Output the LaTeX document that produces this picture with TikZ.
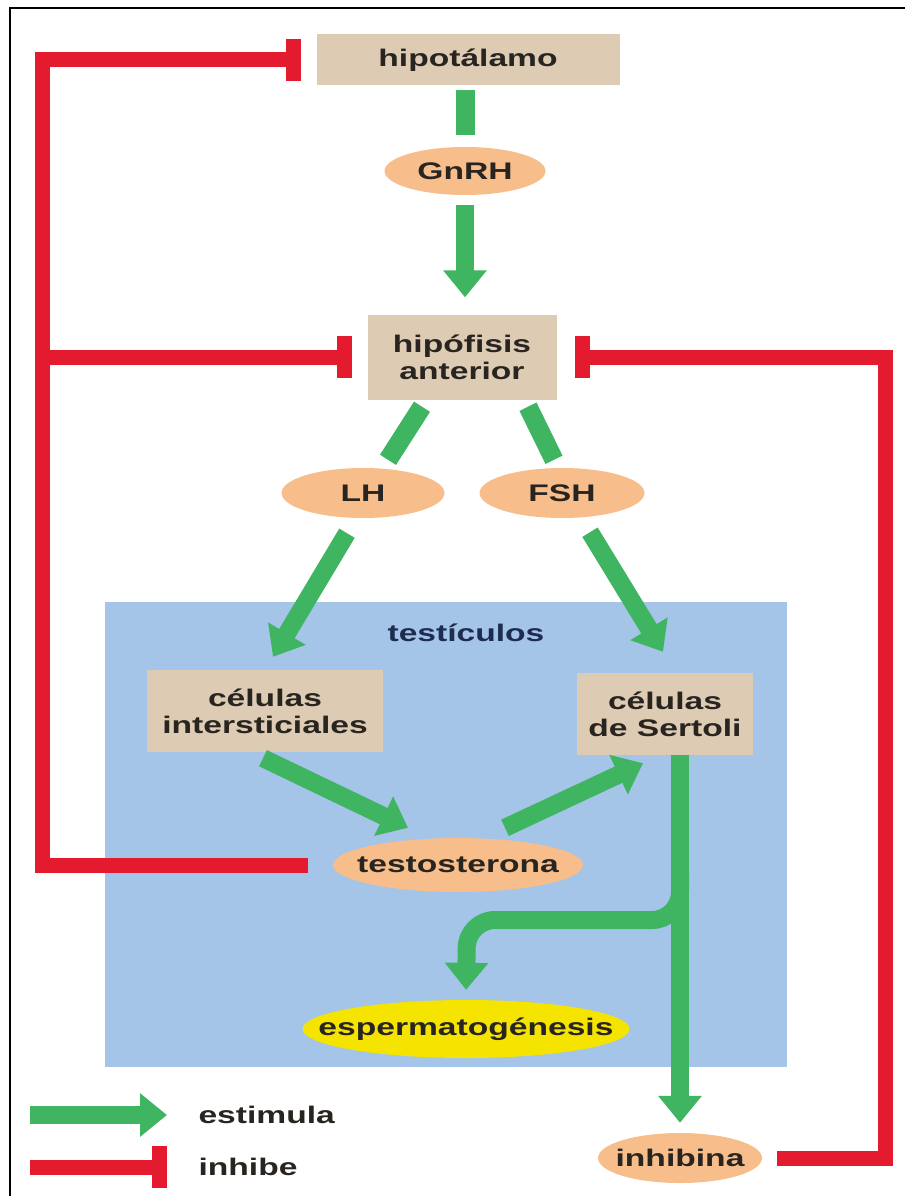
\documentclass[tikz,border=0pt]{standalone}
\usepackage{fontspec}
\newfontfamily\lbl[FakeStretch=1.4]{Liberation Sans}
\usetikzlibrary{shapes.geometric, arrows.meta, positioning, calc}
\definecolor{verdeH}{RGB}{64,181,97}
\definecolor{rojoH}{RGB}{228,26,46}
\definecolor{beigeH}{RGB}{221,203,179}
\definecolor{naranjaH}{RGB}{247,190,140}
\definecolor{azulH}{RGB}{164,196,232}
\definecolor{amarilloH}{RGB}{245,228,0}
\definecolor{azulT}{RGB}{30,45,79}
\definecolor{textoH}{RGB}{40,36,32}
\newcommand{\sinancho}[1]{\makebox[0pt]{#1}}

\begin{document}
\begin{tikzpicture}[x=1pt, y=-1pt,
    font=\lbl\bfseries\fontsize{24}{27}\selectfont, text=textoH,
    caja/.style={rectangle, fill=beigeH, align=center, inner sep=0pt},
    horm/.style={ellipse, fill=naranjaH, inner sep=0pt},
    linea/.style={line width=19pt, verdeH},
    estim/.style={-{Triangle[length=27pt,width=42pt]}, line width=18pt, verdeH},
    bloq/.style={-{Bar[width=42pt]}, line width=15pt, rojoH}]
        \useasboundingbox (0,0) rectangle (905,1196);
        \fill[white] (0,0) rectangle (905,1196);
        \draw[line width=1.5pt] (10,1196) -- (10,8) -- (905,8);

        \node[fill=azulH, minimum width=682pt, minimum height=465pt, anchor=north west, inner sep=0pt] (testic) at (105,602) {};
        \node[text=azulT] (titulo) at (466,633) {testículos};

        \node[caja, minimum width=303pt, minimum height=51pt] (hipot) at (468,60) {hipotálamo};
        \node[horm, minimum width=161pt, minimum height=48pt] (gnrh) at (465,171) {\sinancho{GnRH}};
        \node[caja, minimum width=189pt, minimum height=85pt] (hipof) at (462,357) {hipófisis\\anterior};
        \node[horm, minimum width=163pt, minimum height=50pt] (lh) at (363,493) {\sinancho{LH}};
        \node[horm, minimum width=165pt, minimum height=50pt] (fsh) at (562,493) {\sinancho{FSH}};
        \node[caja, minimum width=236pt, minimum height=82pt] (inter) at (265,711) {células\\intersticiales};
        \node[caja, minimum width=176pt, minimum height=82pt] (sert) at (665,714) {células\\de Sertoli};
        \node[horm, minimum width=250pt, minimum height=54pt] (testo) at (458,865) {\sinancho{testosterona}};
        \node[horm, fill=amarilloH, minimum width=327pt, minimum height=58pt] (esperm) at (466,1029) {\sinancho{espermatogénesis}};
        \node[horm, minimum width=164pt, minimum height=50pt] (inhibina) at (680,1158) {\sinancho{inhibina}};
        \node[anchor=west] (leyEst) at (195,1115) {estimula};
        \node[anchor=west] (leyInh) at (195,1167) {inhibe};

        \coordinate (izq) at (42,0);
        \coordinate (der) at (885,0);
        \coordinate (rama) at (680,870);
        \coordinate (codo) at (467,920);
        \coordinate (legA) at (30,1115);
        \coordinate (legB) at (30,1167);

        \draw[linea, shorten <=4pt, shorten >=12pt] (gnrh.north |- hipot.south) -- (gnrh.north);
        \draw[estim, shorten <=10pt, shorten >=17pt] (gnrh.south) -- (gnrh.south |- hipof.north);
        \draw[linea] ([xshift=-40pt,yshift=-7pt]hipof.south) -- ([xshift=25pt,yshift=8pt]lh.north);
        \draw[linea] ([xshift=66pt,yshift=-7pt]hipof.south) -- ([xshift=-8pt,yshift=8pt]fsh.north);
        \draw[estim] ([xshift=-16pt,yshift=-15pt]lh.south) -- ([xshift=8pt,yshift=13pt]inter.north);
        \draw[estim] ([xshift=28pt,yshift=-14pt]fsh.south) -- ([xshift=-2pt,yshift=21pt]sert.north);
        \draw[estim] ([xshift=-2pt,yshift=-6pt]inter.south) -- ([xshift=-50pt,yshift=10pt]testo.north);
        \draw[estim] ([xshift=47pt,yshift=10pt]testo.north) -- ([xshift=-22pt,yshift=-8pt]sert.south);
        \draw[estim, shorten >=10pt] (sert.south -| inhibina.north) -- (inhibina.north);
        \draw[estim, rounded corners=28pt, shorten >=10pt] (rama) -- (rama |- codo) -- (codo) -- (esperm.north);

        \draw[bloq, shorten <=25pt, shorten >=15pt] (testo.west) -- (testo.west -| izq) -- (izq |- hipot.west) -- (hipot.west);
        \draw[bloq, shorten >=15pt] (izq |- hipof.west) -- (hipof.west);
        \draw[bloq, shorten <=15pt, shorten >=18pt] (inhibina.east) -- (inhibina.east -| der) -- (der |- hipof.east) -- (hipof.east);

        \draw[estim, shorten >=28pt] (legA) -- (leyEst.west);
        \draw[bloq, shorten >=28pt] (legB) -- (leyInh.west);
\end{tikzpicture}
\end{document}
